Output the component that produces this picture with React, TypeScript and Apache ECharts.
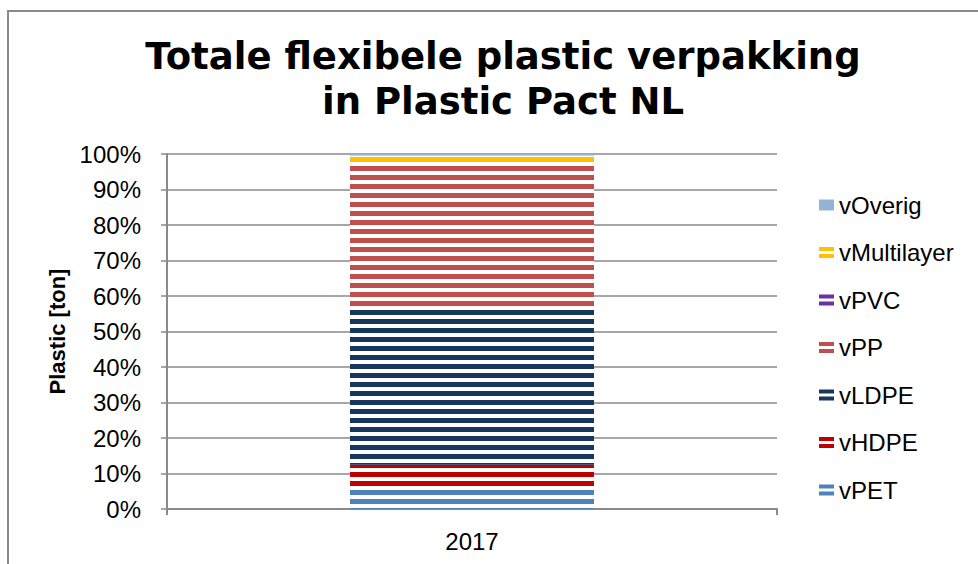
import React, { useEffect, useRef } from "react";
import * as echarts from "echarts";

const categories = ["2017"];
const seriesNames = ["vPET", "vHDPE", "vLDPE", "vPP", "vPVC", "vMultilayer", "vOverig"];
const vPET = [6.5];
const vHDPE = [6.0];
const vLDPE = [44.4];
const vPP = [40.0];
const vPVC = [0.3];
const vMultilayer = [2.4];
const vOverig = [0.4];
const seriesValues = [vPET, vHDPE, vLDPE, vPP, vPVC, vMultilayer, vOverig];
const seriesColors = ["#4F81BD", "#C00000", "#17375E", "#C0504D", "#7030A0", "#FFC000", "#95B3D7"];
const striped = [true, true, true, true, true, true, false];

const GRAY = "#8a8a8a";
const FONT = "Liberation Sans";
const stripeIcon = "path://M0,0H15V4H0Z M0,7H15V11H0Z";

export default function App() {
  const ref = useRef<HTMLDivElement>(null);
  useEffect(() => {
    if (!ref.current) return;
    const chart = echarts.init(ref.current, null, { renderer: "svg" });
    const series = seriesNames.map((name, i) => ({
      name,
      type: "bar",
      stack: "total",
      barWidth: "40%",
      data: seriesValues[i],
      itemStyle: {
        color: seriesColors[i],
        decal: striped[i]
          ? {
              symbol: "rect",
              symbolSize: 1,
              color: "#ffffff",
              dashArrayX: [1, 0],
              dashArrayY: [4, 5],
              rotation: 0,
            }
          : "none",
      },
    }));
    chart.setOption({
      animation: false,
      backgroundColor: "#ffffff",
      title: {
        text: "Totale flexibele plastic verpakking\nin Plastic Pact NL",
        left: 498,
        top: 29,
        textAlign: "center",
        textStyle: {
          fontFamily: "DejaVu Sans",
          fontWeight: "bold",
          fontSize: 37,
          lineHeight: 45,
          color: "#000000",
        },
      },
      legend: {
        orient: "vertical",
        left: 819,
        top: 193,
        padding: 0,
        itemWidth: 15,
        itemHeight: 11,
        itemGap: 23.5,
        textStyle: { fontFamily: FONT, fontSize: 24, color: "#000000" },
        data: seriesNames
          .slice()
          .reverse()
          .map((name) => {
            const i = seriesNames.indexOf(name);
            return {
              name,
              icon: striped[i] ? stripeIcon : "rect",
              itemStyle: { decal: "none" },
            };
          }),
      },
      grid: { left: 167, right: 201, top: 154, bottom: 55, containLabel: false },
      xAxis: {
        type: "category",
        data: categories,
        boundaryGap: true,
        axisLine: { lineStyle: { color: GRAY, width: 2 } },
        axisTick: { show: true, length: 6, lineStyle: { color: GRAY, width: 2 } },
        axisLabel: { fontFamily: FONT, fontSize: 24, color: "#000000", margin: 20 },
      },
      yAxis: {
        type: "value",
        min: 0,
        max: 100,
        interval: 10,
        name: "Plastic [ton]",
        nameLocation: "middle",
        nameGap: 98,
        nameTextStyle: { fontFamily: FONT, fontSize: 22, fontWeight: "bold", color: "#000000" },
        axisLine: { show: true, lineStyle: { color: GRAY, width: 2 } },
        axisTick: { show: true, length: 6, lineStyle: { color: GRAY, width: 1.5 } },
        splitLine: { show: true, lineStyle: { color: GRAY, width: 1.5 } },
        axisLabel: {
          fontFamily: FONT,
          fontSize: 24,
          color: "#000000",
          margin: 26,
          formatter: "{value}%",
        },
      },
      graphic: [
        {
          type: "rect",
          silent: true,
          shape: { x: 8, y: 11, width: 990, height: 600 },
          style: { fill: "none", stroke: GRAY, lineWidth: 2 },
        },
      ],
      series,
    });
    return () => chart.dispose();
  }, []);
  return (
    <div
      ref={ref}
      style={{ position: "absolute", left: 0, top: 0, width: 978, height: 564 }}
    />
  );
}
